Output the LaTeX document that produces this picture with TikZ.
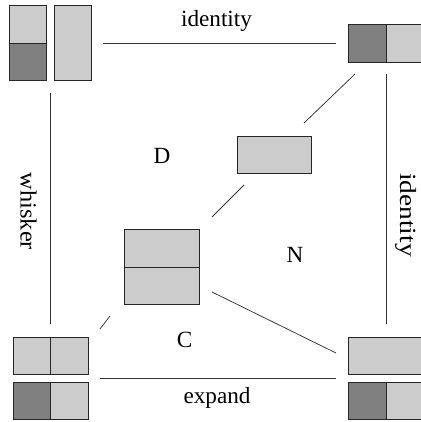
\documentclass[tikz,border=0pt]{standalone}
\usepackage{fontspec}
\setmainfont{Liberation Serif}
\definecolor{lite}{HTML}{CCCCCC}
\definecolor{dark}{HTML}{808080}
\begin{document}
\begin{tikzpicture}[x=1pt,y=-1pt,
  cell/.style={draw=black!85, line width=0.9pt, inner sep=0pt, outer sep=0pt, anchor=north west},
  conn/.style={draw=black!80, line width=0.75pt},
  lbl/.style={font=\fontsize{23.2}{28}\selectfont, inner sep=0pt, anchor=base}]
\useasboundingbox (0,0) rectangle (420,422);
% top-left pair
\node[cell, fill=lite, minimum width=37pt, minimum height=38pt] (tla) at (9,5) {};
\node[cell, fill=dark, minimum width=37pt, minimum height=37pt] (tlb) at (9,43) {};
\node[cell, fill=lite, minimum width=37pt, minimum height=75pt] (tlc) at (54,5) {};
% top-right
\node[cell, fill=dark, minimum width=38pt, minimum height=38pt] (tra) at (348,24) {};
\node[cell, fill=lite, minimum width=38pt, minimum height=38pt] (trb) at (386,24) {};
% middle
\node[cell, fill=lite, minimum width=74pt, minimum height=37pt] (mid) at (237,136) {};
% centre stack
\node[cell, fill=lite, minimum width=75pt, minimum height=38pt] (ca) at (124,229) {};
\node[cell, fill=lite, minimum width=75pt, minimum height=37pt] (cb) at (124,267) {};
% bottom-left
\node[cell, fill=lite, minimum width=37pt, minimum height=37pt] (bla) at (13,337) {};
\node[cell, fill=lite, minimum width=38pt, minimum height=37pt] (blb) at (50,337) {};
\node[cell, fill=dark, minimum width=37pt, minimum height=37pt] (blc) at (13,382) {};
\node[cell, fill=lite, minimum width=38pt, minimum height=37pt] (bld) at (50,382) {};
% bottom-right
\node[cell, fill=lite, minimum width=76pt, minimum height=37pt] (bra) at (348,337) {};
\node[cell, fill=dark, minimum width=38pt, minimum height=37pt] (brb) at (348,382) {};
\node[cell, fill=lite, minimum width=38pt, minimum height=37pt] (brc) at (386,382) {};
% connector end points
\coordinate (t1) at (103,43);  \coordinate (t2) at (336,43);
\coordinate (d1) at (355,74);  \coordinate (d2) at (304,123);
\coordinate (d3) at (244,185); \coordinate (d4) at (212,217);
\coordinate (w1) at (50,93);   \coordinate (w2) at (50,324);
\coordinate (r1) at (386,74);  \coordinate (r2) at (386,324);
\coordinate (n1) at (212,292); \coordinate (n2) at (336,353);
\coordinate (c1) at (110,316); \coordinate (c2) at (100,329);
\coordinate (b1) at (100,378); \coordinate (b2) at (336,378);
\draw[conn] (t1) -- (t2);
\draw[conn] (d1) -- (d2);
\draw[conn] (d3) -- (d4);
\draw[conn] (w1) -- (w2);
\draw[conn] (r1) -- (r2);
\draw[conn] (n1) -- (n2);
\draw[conn] (c1) -- (c2);
\draw[conn] (b1) -- (b2);
% labels
\node[lbl] (lid) at (216.5,27) {identity};
\node[lbl] (lex) at (217,403) {expand};
\node[lbl] (lc) at (184.5,347) {C};
\node[lbl] (ld) at (162,163) {D};
\node[lbl] (ln) at (295,262) {N};
\node[lbl, rotate=-90] (lw) at (20.5,211.5) {\scalebox{1.05}[1]{whisker}};
\node[lbl, rotate=-90] (lr) at (400,215) {\scalebox{1.18}[1]{identity}};
\end{tikzpicture}
\end{document}
